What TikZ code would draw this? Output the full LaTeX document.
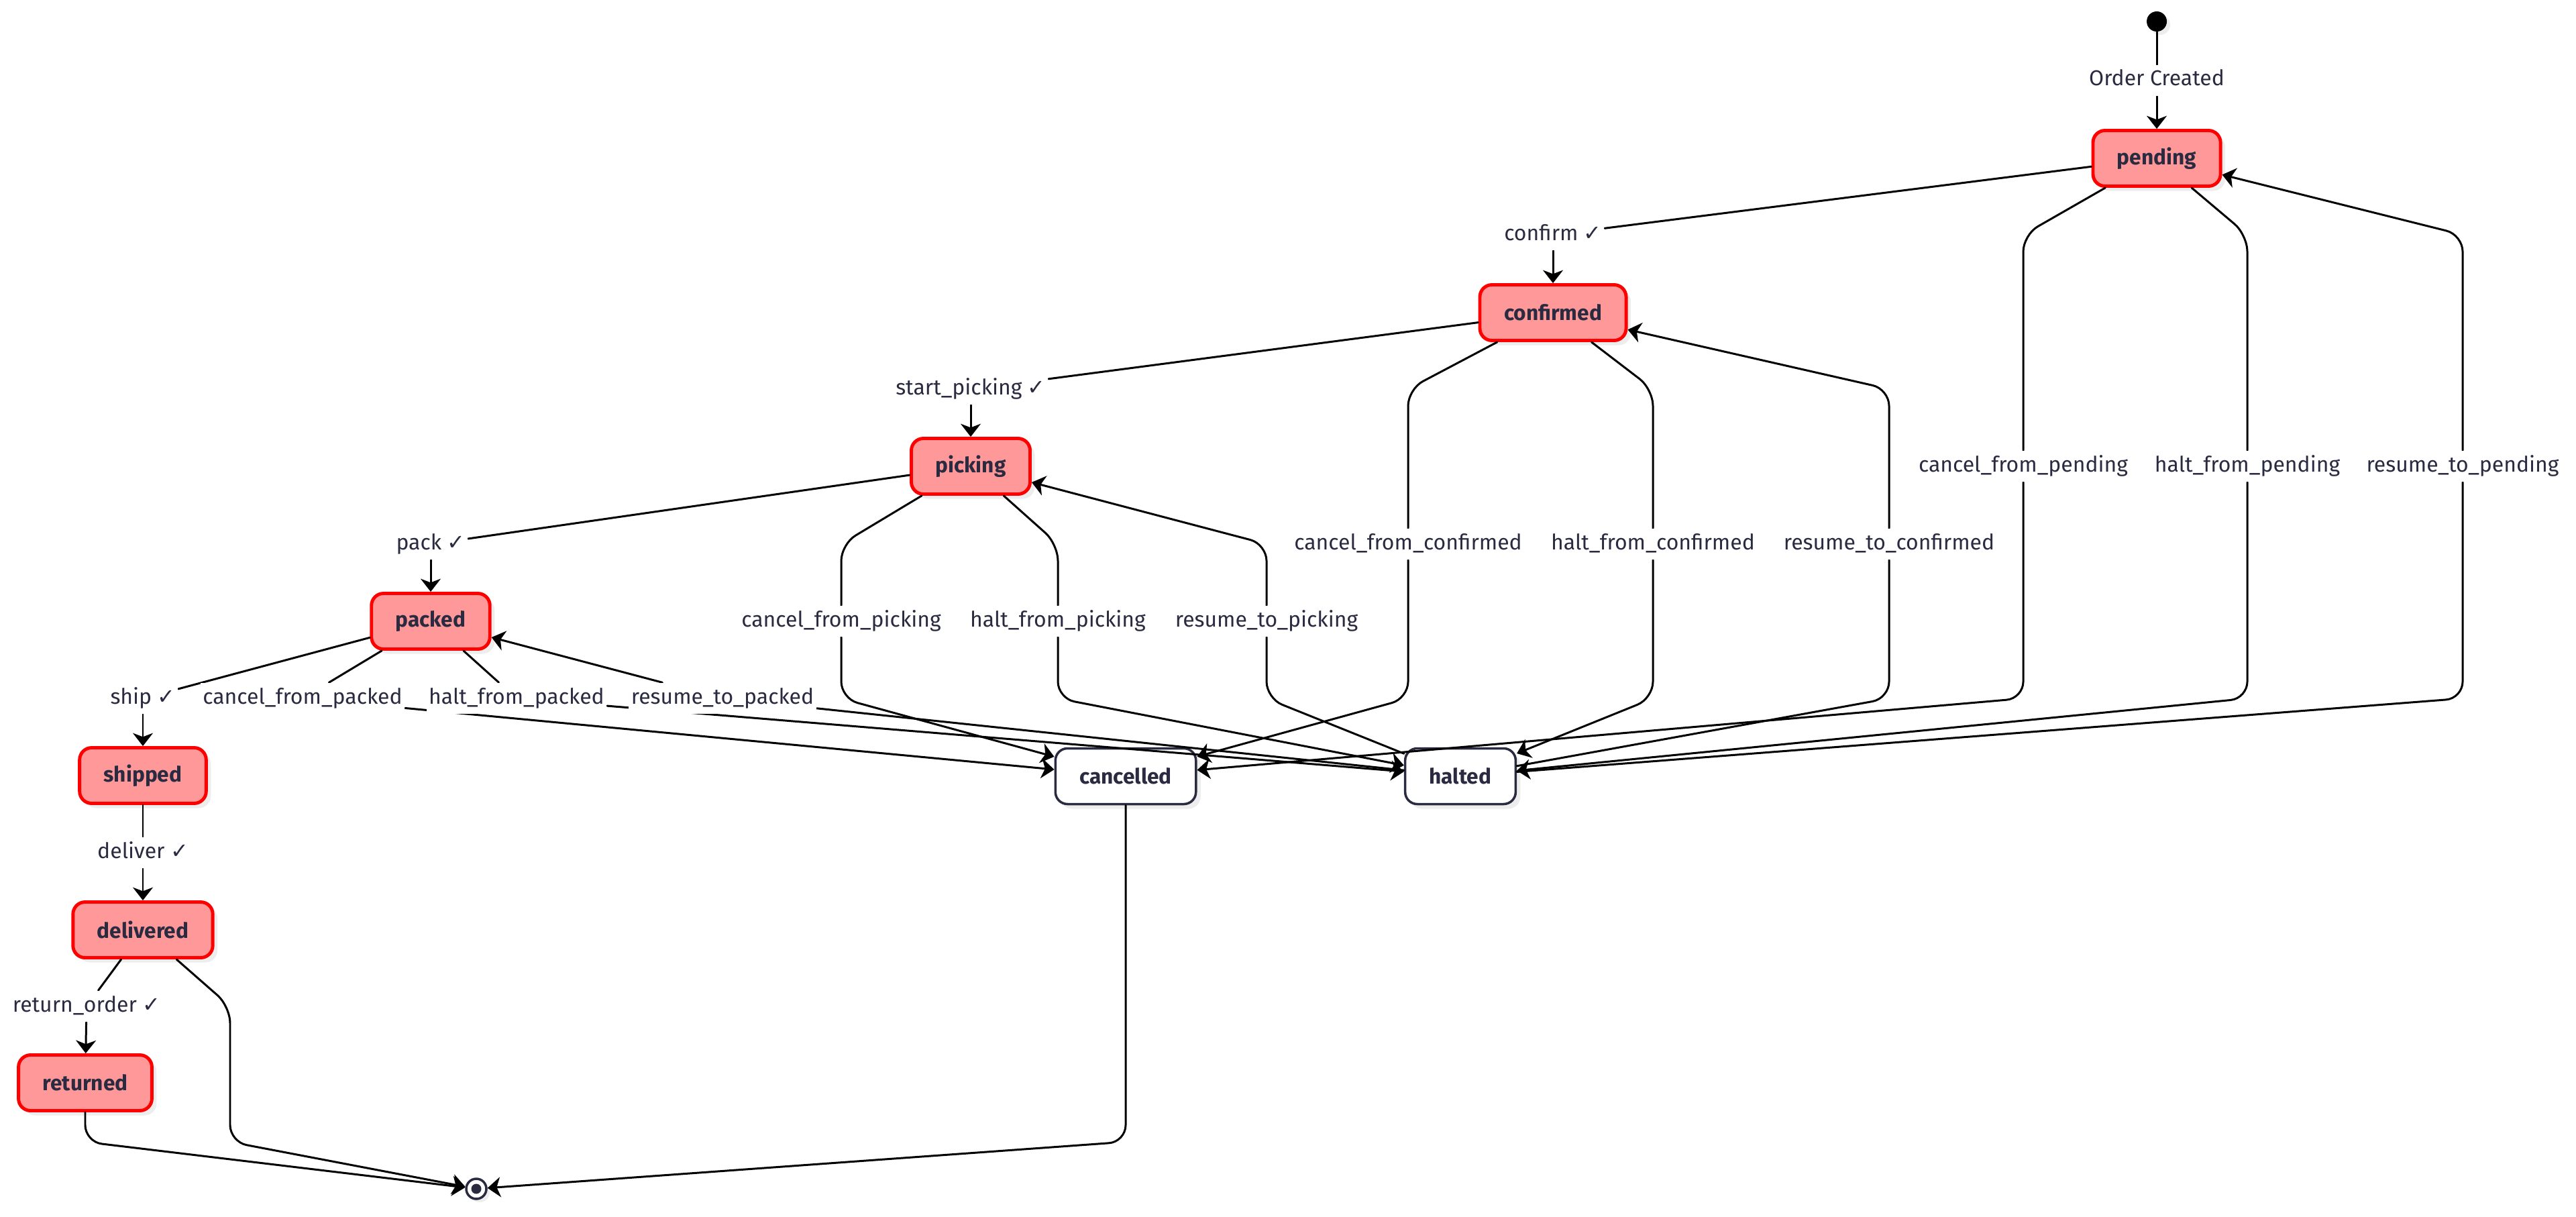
\documentclass[tikz,border=0pt]{standalone}
\usepackage{fontspec}
\setmainfont{Fira Sans}
\newfontfamily\symfont{DejaVu Sans}
\usetikzlibrary{arrows.meta,shadows}
\pgfdeclarelayer{front}
\pgfsetlayers{main,front}
\definecolor{ink}{HTML}{2A2A40}
\definecolor{stfill}{HTML}{FF9999}
\definecolor{stline}{HTML}{FF0000}
\newcommand{\ok}{{\symfont ✓}}
\begin{document}
\begin{tikzpicture}[font=\fontsize{9.1}{11}\selectfont, line join=round, line cap=round,
    >={Stealth[length=5.5pt,width=8.5pt,inset=1.6pt]},
    stbox/.style={rounded corners=0.18cm, draw=stline, fill=stfill, line width=1.4pt,
        minimum height=0.83cm, inner xsep=0.36cm, text=ink, font=\fontsize{9}{11}\selectfont\bfseries,
        drop shadow={shadow xshift=0.07cm, shadow yshift=-0.07cm, fill=black, opacity=0.07}},
    endbox/.style={stbox, draw=ink, fill=white, line width=1pt},
    lbl/.style={fill=white, text=ink, inner xsep=1pt, inner ysep=0.07cm, text height=0.24cm, text depth=0.08cm},
    link/.style={line width=0.85pt, rounded corners=0.25cm}]
\useasboundingbox (0,0) rectangle (38.4,-18.13);
% rows of the layers
\foreach \n/\y in {1/3.50,2/5.80,3/8.11,4/10.41,5/12.71,6/15.00,7/17.02}
    \coordinate (r\n) at (0,-\y);
% states
\node[circle, fill=black, minimum size=0.3cm, inner sep=0pt,
    drop shadow={shadow xshift=0.05cm, shadow yshift=-0.05cm, fill=black, opacity=0.07}] (start) at (32.15,-0.32) {};
\node[stbox] (pending) at (32.15,-2.36) {pending};
\node[stbox] (confirmed) at (23.15,-4.66) {confirmed};
\node[stbox] (picking) at (14.47,-6.95) {picking};
\node[stbox] (packed) at (6.42,-9.26) {packed};
\node[stbox] (shipped) at (2.13,-11.56) {shipped};
\node[stbox] (delivered) at (2.13,-13.86) {delivered};
\node[stbox] (returned) at (1.27,-16.14) {returned};
\node[endbox] (cancelled) at (16.78,-11.57) {cancelled};
\node[endbox] (halted) at (21.77,-11.57) {halted};
\node[circle, draw=ink, fill=white, line width=1pt, minimum size=0.3cm, inner sep=0pt,
    drop shadow={shadow xshift=0.05cm, shadow yshift=-0.05cm, fill=black, opacity=0.07}] (final) at (7.10,-17.72) {};
\fill[ink] (final.center) circle (0.075);
% transition labels
\begin{pgfonlayer}{front}
\node[lbl] (lcreated) at (32.15,-1.20) {Order Created};
\node[lbl] (lconfirm) at (23.15,-3.50) {confirm \ok};
\node[lbl] (lstart) at (14.47,-5.80) {start\_picking \ok};
\node[lbl] (lpack) at (6.42,-8.11) {pack \ok};
\node[lbl] (lship) at (2.13,-10.41) {ship \ok};
\node[lbl] (ldeliver) at (2.13,-12.71) {deliver \ok};
\node[lbl] (lreturn) at (1.29,-15.00) {return\_order \ok};
\node[lbl] (lcfpe) at (30.16,-6.95) {cancel\_from\_pending};
\node[lbl] (lhfpe) at (33.50,-6.95) {halt\_from\_pending};
\node[lbl] (lrtpe) at (36.71,-6.95) {resume\_to\_pending};
\node[lbl] (lcfc) at (20.99,-8.11) {cancel\_from\_confirmed};
\node[lbl] (lhfc) at (24.64,-8.11) {halt\_from\_confirmed};
\node[lbl] (lrtc) at (28.16,-8.11) {resume\_to\_confirmed};
\node[lbl] (lcfpi) at (12.54,-9.26) {cancel\_from\_picking};
\node[lbl] (lhfpi) at (15.77,-9.26) {halt\_from\_picking};
\node[lbl] (lrtpi) at (18.88,-9.26) {resume\_to\_picking};
\node[lbl] (lcfpk) at (4.51,-10.41) {cancel\_from\_packed};
\node[lbl] (lhfpk) at (7.70,-10.41) {halt\_from\_packed};
\node[lbl] (lrtpk) at (10.77,-10.41) {resume\_to\_packed};
\end{pgfonlayer}
% main chain
\foreach \a/\l/\b in {start/lcreated/pending, pending/lconfirm/confirmed, confirmed/lstart/picking,
    picking/lpack/packed, packed/lship/shipped, shipped/ldeliver/delivered, delivered/lreturn/returned}
    {\draw[link] (\a) -- (\l); \draw[link,->] (\l) -- (\b);}
% cancel and halt
\foreach \a/\l/\b/\ra in {pending/lcfpe/cancelled/r1, pending/lhfpe/halted/r1,
    confirmed/lcfc/cancelled/r2, confirmed/lhfc/halted/r2,
    picking/lcfpi/cancelled/r3, picking/lhfpi/halted/r3}
    {\draw[link] (\a) -- (\l |- \ra) -- (\l); \draw[link,->] (\l) -- (\l |- r4) -- (\b);}
% resume
\foreach \l/\b/\ra in {lrtpe/pending/r1, lrtc/confirmed/r2, lrtpi/picking/r3}
    {\draw[link] (halted) -- (\l |- r4) -- (\l); \draw[link,->] (\l) -- (\l |- \ra) -- (\b);}
\draw[link] (packed) -- (lcfpk); \draw[link,->] (lcfpk) -- (cancelled);
\draw[link] (packed) -- (lhfpk); \draw[link,->] (lhfpk) -- (halted);
\draw[link] (halted) -- (lrtpk); \draw[link,->] (lrtpk) -- (packed);
% to the end
\coordinate (dcol) at (3.43,-15.00);
\draw[link,->] (returned) -- (returned |- r7) -- (final);
\draw[link,->] (delivered) -- (dcol) -- (dcol |- r7) -- (final);
\draw[link,->] (cancelled) -- (cancelled |- r7) -- (final);
\end{tikzpicture}
\end{document}
